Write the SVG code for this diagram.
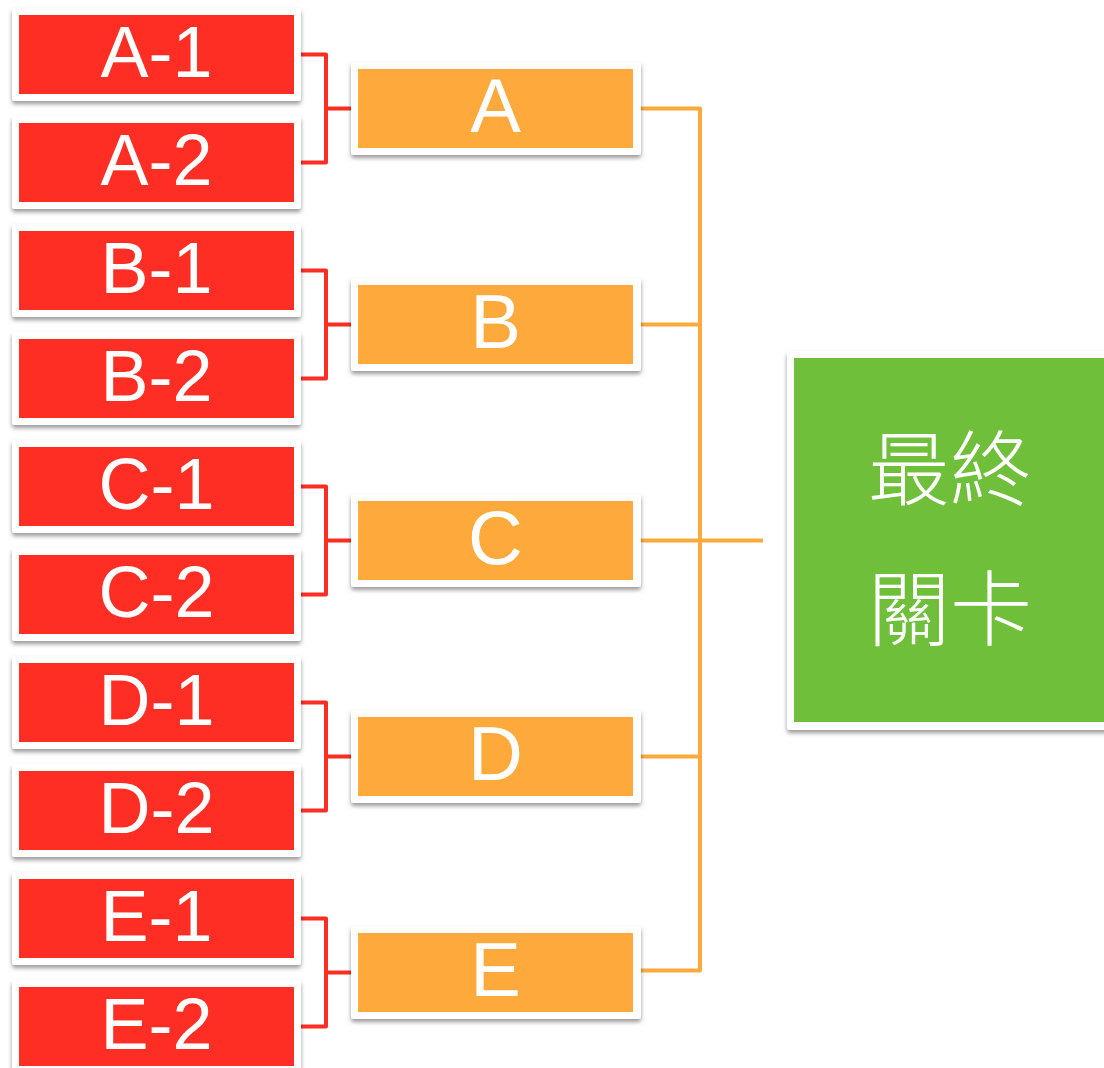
<svg xmlns="http://www.w3.org/2000/svg" width="1104" height="1068" viewBox="0 0 1104 1068">
<defs>
<filter id="sh" x="-10%" y="-10%" width="120%" height="130%">
<feDropShadow dx="0" dy="3" stdDeviation="2" flood-color="#000" flood-opacity="0.4"/>
</filter>
<style>
.frame{fill:#ffffff;filter:url(#sh)}
.red{fill:#FF2E24}
.org{fill:#FEA93C}
.grn{fill:#6FBF3A}
.t{font-family:"Liberation Sans",Arial,sans-serif;fill:#fff;text-anchor:middle}
.tr{font-size:72px}
.to{font-size:76px}
.cjk{font-family:"Noto Sans CJK TC","Noto Sans CJK SC",sans-serif;font-size:82px;fill:#fff;text-anchor:middle;font-weight:300}
.cr{stroke:#FF2E24;stroke-width:4;fill:none;stroke-linejoin:round}
.co{stroke:#FEA93C;stroke-width:4;fill:none;stroke-linejoin:round}
</style>
</defs>
<g id="connectors">
<path class="cr" d="M300 54.5H326V162.5H300M326 108.5H352"/>
<path class="cr" d="M300 270.5H326V378.5H300M326 324.5H352"/>
<path class="cr" d="M300 486.5H326V594.5H300M326 540.5H352"/>
<path class="cr" d="M300 702.5H326V810.5H300M326 756.5H352"/>
<path class="cr" d="M300 918.5H326V1026.5H300M326 972.5H352"/>
<path class="co" d="M640 108.5H700V970.5H640M640 324.5H700M640 540.5H763M640 756.5H700"/>
</g>
<g id="A-1"><rect class="frame" x="12" y="8" width="289" height="93" rx="3"/><rect class="red" x="19" y="15" width="275" height="79"/><text class="t tr" x="156.5" y="77">A-1</text></g>
<g id="A-2"><rect class="frame" x="12" y="116" width="289" height="93" rx="3"/><rect class="red" x="19" y="123" width="275" height="79"/><text class="t tr" x="156.5" y="185">A-2</text></g>
<g id="B-1"><rect class="frame" x="12" y="224" width="289" height="93" rx="3"/><rect class="red" x="19" y="231" width="275" height="79"/><text class="t tr" x="156.5" y="293">B-1</text></g>
<g id="B-2"><rect class="frame" x="12" y="332" width="289" height="93" rx="3"/><rect class="red" x="19" y="339" width="275" height="79"/><text class="t tr" x="156.5" y="401">B-2</text></g>
<g id="C-1"><rect class="frame" x="12" y="440" width="289" height="93" rx="3"/><rect class="red" x="19" y="447" width="275" height="79"/><text class="t tr" x="156.5" y="509">C-1</text></g>
<g id="C-2"><rect class="frame" x="12" y="548" width="289" height="93" rx="3"/><rect class="red" x="19" y="555" width="275" height="79"/><text class="t tr" x="156.5" y="617">C-2</text></g>
<g id="D-1"><rect class="frame" x="12" y="656" width="289" height="93" rx="3"/><rect class="red" x="19" y="663" width="275" height="79"/><text class="t tr" x="156.5" y="725">D-1</text></g>
<g id="D-2"><rect class="frame" x="12" y="764" width="289" height="93" rx="3"/><rect class="red" x="19" y="771" width="275" height="79"/><text class="t tr" x="156.5" y="833">D-2</text></g>
<g id="E-1"><rect class="frame" x="12" y="872" width="289" height="93" rx="3"/><rect class="red" x="19" y="879" width="275" height="79"/><text class="t tr" x="156.5" y="941">E-1</text></g>
<g id="E-2"><rect class="frame" x="12" y="980" width="289" height="93" rx="3"/><rect class="red" x="19" y="987" width="275" height="79"/><text class="t tr" x="156.5" y="1049">E-2</text></g>
<g id="A"><rect class="frame" x="351" y="62" width="290" height="93" rx="3"/><rect class="org" x="358" y="69" width="275" height="79"/><text class="t to" x="495.5" y="132">A</text></g>
<g id="B"><rect class="frame" x="351" y="278" width="290" height="93" rx="3"/><rect class="org" x="358" y="285" width="275" height="79"/><text class="t to" x="495.5" y="348">B</text></g>
<g id="C"><rect class="frame" x="351" y="494" width="290" height="93" rx="3"/><rect class="org" x="358" y="501" width="275" height="79"/><text class="t to" x="495.5" y="564">C</text></g>
<g id="D"><rect class="frame" x="351" y="710" width="290" height="93" rx="3"/><rect class="org" x="358" y="717" width="275" height="79"/><text class="t to" x="495.5" y="780">D</text></g>
<g id="E"><rect class="frame" x="351" y="926" width="290" height="93" rx="3"/><rect class="org" x="358" y="933" width="275" height="79"/><text class="t to" x="495.5" y="996">E</text></g>
<g id="final"><rect class="frame" x="787" y="351" width="330" height="379" rx="3"/><rect class="grn" x="794" y="358" width="316" height="364"/><text class="cjk" x="950" y="499">最終</text><text class="cjk" x="950" y="639">關卡</text></g>
</svg>
